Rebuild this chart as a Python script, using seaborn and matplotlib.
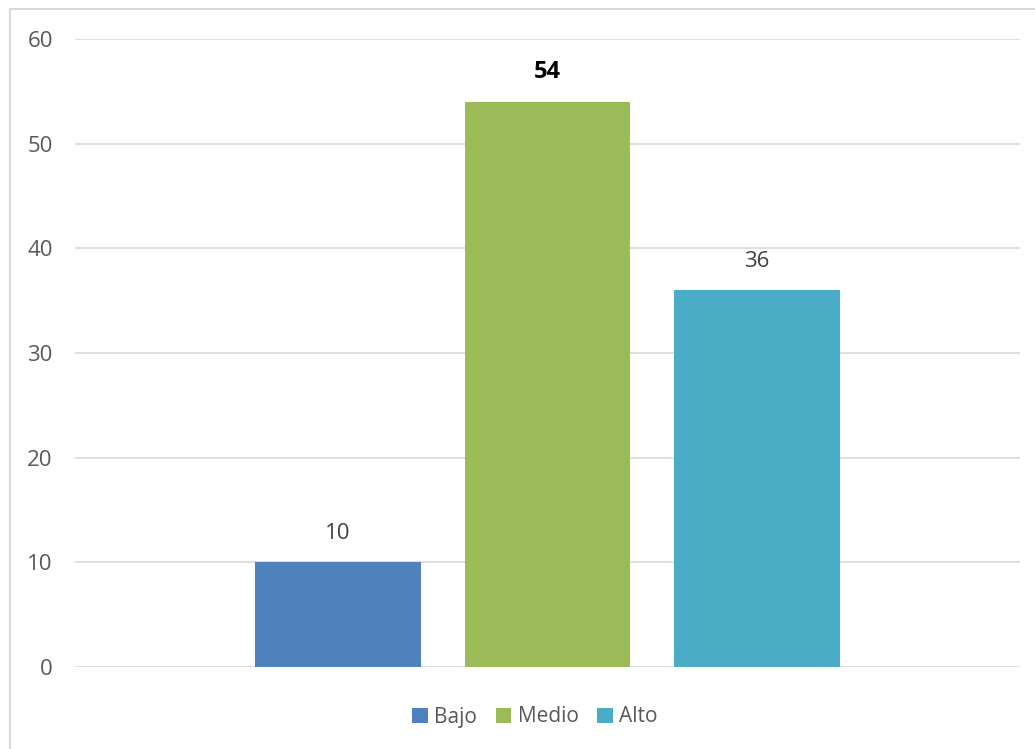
import matplotlib
matplotlib.use("Agg")
import matplotlib.pyplot as plt
from matplotlib.lines import Line2D
from matplotlib.patches import Patch
import seaborn as sns
import pandas as pd

# Data
levels = ["Bajo", "Medio", "Alto"]
values = [10, 54, 36]
colors = ["#4F81BD", "#9BBB59", "#4BACC6"]
yticks = [0, 10, 20, 30, 40, 50, 60]

df = pd.DataFrame({"grupo": [""] * 3, "nivel": levels, "valor": values})

sns.set_theme(style="white")
plt.rcParams["font.family"] = ["Open Sans", "DejaVu Sans"]

W, H = 1035, 749
fig = plt.figure(figsize=(W / 100, H / 100), dpi=100)
ax = fig.add_axes([75 / W, 1 - 667 / H, (1020 - 75) / W, (667 - 39) / H])

sns.barplot(data=df, x="grupo", y="valor", hue="nivel", hue_order=levels,
            palette=colors, width=0.665, gap=0.21, saturation=1,
            linewidth=0, legend=False, ax=ax)

ax.set_xlim(-0.5, 0.5)
ax.set_ylim(0, 60)
ax.set_yticks(yticks)
ax.yaxis.grid(True, color="#D9D9D9", linewidth=1.2)
ax.set_axisbelow(True)
for s in ax.spines.values():
    s.set_visible(False)
ax.set_xticks([])
ax.set_xlabel("")
ax.set_ylabel("")
ax.tick_params(axis="y", length=0, pad=16, labelsize=16, labelcolor="#595959")

# value labels
for cont, v in zip(ax.containers, values):
    bold = v == max(values)
    ax.bar_label(cont, labels=[str(v)], padding=13, fontsize=17 if bold else 16,
                 color="black" if bold else "#404040",
                 fontweight="bold" if bold else "normal")

handles = [Patch(facecolor=c, edgecolor="none") for c in colors]
fig.legend(handles, levels, loc="center", bbox_to_anchor=(535 / W, 1 - 717 / H),
           ncol=3, frameon=False, fontsize=15, handlelength=0.75, handleheight=0.75,
           handletextpad=0.3, columnspacing=0.9, labelcolor="#595959")

# chart border
fig.add_artist(Line2D([10 / W, 1], [1 - 9 / H, 1 - 9 / H], color="#D9D9D9", linewidth=1.5))
fig.add_artist(Line2D([10 / W, 10 / W], [0, 1 - 9 / H], color="#D9D9D9", linewidth=1.5))

fig.savefig("out.png", dpi=100)
